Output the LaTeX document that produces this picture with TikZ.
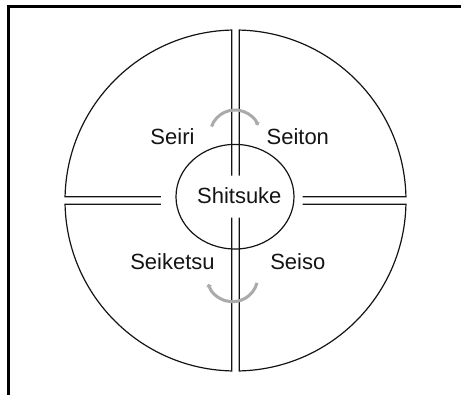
\documentclass[tikz,border=0pt]{standalone}
\usepackage{fontspec}
\setmainfont{Liberation Sans}
\usepackage{tikz}
\usetikzlibrary{arrows.meta,shapes.geometric}
\definecolor{inkblack}{RGB}{20,20,20}
\definecolor{cyclegrey}{RGB}{170,170,170}
\tikzset{
  ring/.style={draw=inkblack, line width=1.2pt, line join=miter},
  hub/.style={ellipse, draw=inkblack, line width=1.2pt, minimum width=118pt, minimum height=104.6pt, inner sep=0pt},
  lbl/.style={font=\fontsize{22}{26}\selectfont, text=inkblack, inner sep=0pt, anchor=base},
  cyc/.style={draw=cyclegrey, line width=3pt, -{Triangle[length=3pt,width=5.5pt]}},
  frame/.style={draw=black, line width=2.6pt},
}

\begin{document}
\begin{tikzpicture}[x=1pt,y=1pt]
  \useasboundingbox (-235.5,-193.5) rectangle (225.5,200.5);
  \clip (-235.5,-193.5) rectangle (225.5,200.5);
  % frame (cut at right and bottom)
  \draw[frame] (-226.8,-210) -- (-226.8,193.8) -- (240,193.8);
  % four quadrants of the outer ring
  \def\R{170.5}
  \foreach \hx/\hy/\sa/\ea/\vx/\vy in {-74.5/3.75/178.74/91.26/-3.75/24.8,
                                      67.2/3.75/1.26/88.74/3.75/24.8,
                                      -74.5/-3.75/181.26/268.74/-3.75/-17.2,
                                      67.2/-3.75/-1.26/-88.74/3.75/-17.2}{
    \draw[ring] (\hx,\hy) -- (\sa:\R) arc[start angle=\sa, end angle=\ea, radius=\R] -- (\vx,\vy);
  }
  % centre
  \node[hub] (hub) at (-0.5,3.8) {};
  \node[lbl] (shitsuke) at (3.8,-2.8) {Shitsuke};
  % the four S
  \node[lbl] (seiri) at (-63,56.5) {Seiri};
  \node[lbl] (seiton) at (62.3,56.5) {Seiton};
  \node[lbl] (seiketsu) at (-63,-68.8) {Seiketsu};
  \node[lbl] (seiso) at (62.3,-68.8) {Seiso};
  % cycle arrows
  \coordinate (topc) at (-0.5,65.5);
  \coordinate (botc) at (-3,-75.8);
  \draw[cyc] ([shift={(160:25)}]topc) arc[start angle=160, end angle=22, radius=25];
  \draw[cyc] ([shift={(-15:25.4)}]botc) arc[start angle=-15, end angle=-163, radius=25.4];
\end{tikzpicture}
\end{document}
